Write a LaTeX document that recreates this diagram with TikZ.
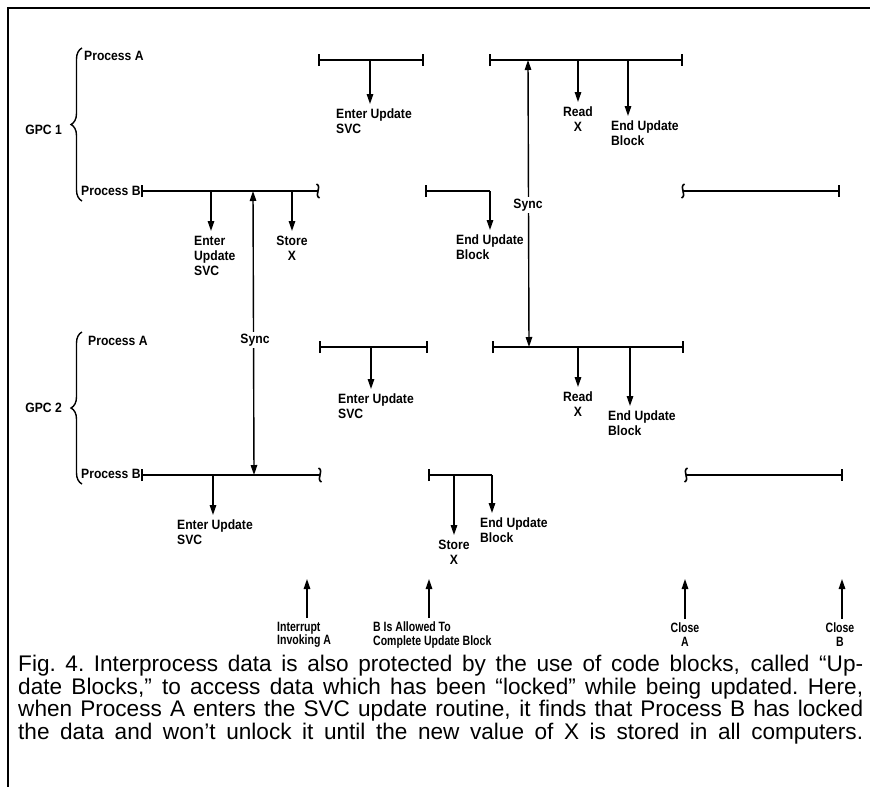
\documentclass[tikz,border=0pt]{standalone}
\usepackage{fontspec}
\setmainfont{Liberation Sans}
\newfontfamily\lblfont[FakeStretch=0.9]{Liberation Sans}
\newfontfamily\evfont[FakeStretch=0.78]{Liberation Sans}
\usetikzlibrary{arrows.meta,decorations.pathreplacing}

\tikzset{
  tline/.style={line width=2.4pt},
  bars/.style={tline,{Bar[width=12pt,line width=1.6pt]}-{Bar[width=12pt,line width=1.6pt]}},
  lbar/.style={tline,{Bar[width=12pt,line width=1.6pt]}-},
  rbar/.style={tline,-{Bar[width=12pt,line width=1.6pt]}},
  evt/.style={line width=1.4pt,-{Triangle[length=10pt,width=6.5pt]},shorten >=5pt},
  upevt/.style={line width=1.4pt,-{Triangle[length=10pt,width=6.5pt]},shorten <=4pt},
  sync/.style={line width=1.4pt,{Triangle[length=10pt,width=6.5pt]}-{Triangle[length=10pt,width=6.5pt]}},
  lbl/.style={font=\lblfont\bfseries\fontsize{13.5}{15}\selectfont,inner sep=0pt,align=left,anchor=north west},
  clbl/.style={lbl,align=center,anchor=north},
  blbl/.style={lbl,font=\evfont\bfseries\fontsize{13.5}{13.5}\selectfont},
  cblbl/.style={blbl,align=center,anchor=north},
  synclbl/.style={font=\lblfont\bfseries\fontsize{13.5}{14}\selectfont,fill=white,inner sep=2pt},
  gpcbrace/.style={decorate,decoration={brace,amplitude=11pt},line width=1.4pt},
  cut/.pic={\draw[line width=1.6pt] (-1.5,-7) .. controls (4.5,-4) and (-4.5,4) .. (1.5,7);},
  captext/.style={inner sep=0pt,anchor=north west,
    font=\fontsize{22.6}{22.7}\selectfont}
}
\newcommand{\capline}[1]{\hbox to 845pt{\spaceskip=0.25em plus 1fil\xspaceskip=0.25em plus 1fil #1}}

\begin{document}
\begin{tikzpicture}[x=1pt,y=-1pt]
    \useasboundingbox (0,0) rectangle (870,787);
    % Frame
    \draw[line width=2pt] (8,787) -- (8,8) -- (870,8);

    % GPC 1
    \node[lbl,anchor=east] (gpc1) at (62,130) {GPC 1};
    \draw[gpcbrace] (82,201) -- (82,48);
    \node[lbl,anchor=west] (p1a) at (84,56) {Process A};
    \node[lbl,anchor=west] (p1b) at (81,191) {Process B};
    % Process A blocks
    \draw[bars] (318,60) -- (424,60);
    \draw[bars] (489,60) -- (683,60);
    \coordinate (a1e) at (370,60);
    \coordinate (a1r) at (578,60);
    \coordinate (a1d) at (628,60);
    \coordinate (a1s) at (528,60);
    \node[lbl] (l1e) at (336,109) {Enter Update\\SVC};
    \node[clbl] (l1r) at (578,107) {Read\\X};
    \node[lbl] (l1d) at (611,121) {End Update\\Block};
    \draw[evt] (a1e) -- (a1e |- l1e.north);
    \draw[evt] (a1r) -- (a1r |- l1r.north);
    \draw[evt] (a1d) -- (a1d |- l1d.north);
    % Process B blocks
    \draw[lbar] (141,191) -- (318,191);
    \pic at (318,191) {cut};
    \draw[lbar] (425,191) -- (490,191);
    \draw[rbar] (683,191) -- (840,191);
    \pic[xscale=-1] at (683,191) {cut};
    \coordinate (b1e) at (211,191);
    \coordinate (b1s) at (292,191);
    \coordinate (b1d) at (490,191);
    \coordinate (b1y) at (253,191);
    \node[lbl] (m1e) at (194,236) {Enter\\Update\\SVC};
    \node[clbl] (m1s) at (292,236) {Store\\X};
    \node[lbl] (m1d) at (456,235) {End Update\\Block};
    \draw[evt] (b1e) -- (b1e |- m1e.north);
    \draw[evt] (b1s) -- (b1s |- m1s.north);
    \draw[evt] (b1d) -- (b1d |- m1d.north);

    % GPC 2
    \node[lbl,anchor=east] (gpc2) at (62,408) {GPC 2};
    \draw[gpcbrace] (82,484) -- (82,332);
    \node[lbl,anchor=west] (p2a) at (88,341) {Process A};
    \node[lbl,anchor=west] (p2b) at (81,474) {Process B};
    % Process A blocks
    \draw[bars] (319,347) -- (428,347);
    \draw[bars] (492,347) -- (684,347);
    \coordinate (a2e) at (371,347);
    \coordinate (a2r) at (578,347);
    \coordinate (a2d) at (630,347);
    \coordinate (a2s) at (529,347);
    \node[lbl] (l2e) at (338,394) {Enter Update\\SVC};
    \node[clbl] (l2r) at (578,392) {Read\\X};
    \node[lbl] (l2d) at (608,411) {End Update\\Block};
    \draw[evt] (a2e) -- (a2e |- l2e.north);
    \draw[evt] (a2r) -- (a2r |- l2r.north);
    \draw[evt] (a2d) -- (a2d |- l2d.north);
    % Process B blocks
    \draw[lbar] (141,475) -- (320,475);
    \pic at (320,475) {cut};
    \draw[lbar] (428,475) -- (492,475);
    \draw[rbar] (686,475) -- (843,475);
    \pic[xscale=-1] at (686,475) {cut};
    \coordinate (b2e) at (213,475);
    \coordinate (b2s) at (454,475);
    \coordinate (b2d) at (492,475);
    \coordinate (b2y) at (254,475);
    \node[lbl] (m2e) at (177,520) {Enter Update\\SVC};
    \node[clbl] (m2s) at (454,540) {Store\\X};
    \node[lbl] (m2d) at (480,518) {End Update\\Block};
    \draw[evt] (b2e) -- (b2e |- m2e.north);
    \draw[evt] (b2s) -- (b2s |- m2s.north);
    \draw[evt] (b2d) -- (b2d |- m2d.north);

    % Sync between the two computers
    \draw[sync] (b1y) -- (b2y);
    \node[synclbl] (s1) at (255,340) {Sync};
    \draw[sync] (a1s) -- (a2s);
    \node[synclbl] (s2) at (528,205) {Sync};

    % Events along the bottom
    \coordinate (t1) at (307,579);
    \coordinate (t2) at (429,579);
    \coordinate (t3) at (685,579);
    \coordinate (t4) at (842,579);
    \node[blbl] (ev1) at (277,622) {Interrupt\\Invoking A};
    \node[blbl] (ev2) at (373,622) {B Is Allowed To\\Complete Update Block};
    \node[cblbl] (ev3) at (685,623) {Close\\A};
    \node[cblbl] (ev4) at (840,623) {Close\\B};
    \draw[upevt] (t1 |- ev1.north) -- (t1);
    \draw[upevt] (t2 |- ev2.north) -- (t2);
    \draw[upevt] (t3 |- ev3.north) -- (t3);
    \draw[upevt] (t4 |- ev4.north) -- (t4);

    % Caption
    \node[captext] (caption) at (18,655) {\vbox{%
      \capline{Fig. 4. Interprocess data is also protected by the use of code blocks, called “Up-}
      \capline{date Blocks,” to access data which has been “locked” while being updated. Here,}
      \capline{when Process A enters the SVC update routine, it finds that Process B has locked}
      \capline{the data and won’t unlock it until the new value of X is stored in all computers.}}};
\end{tikzpicture}
\end{document}
